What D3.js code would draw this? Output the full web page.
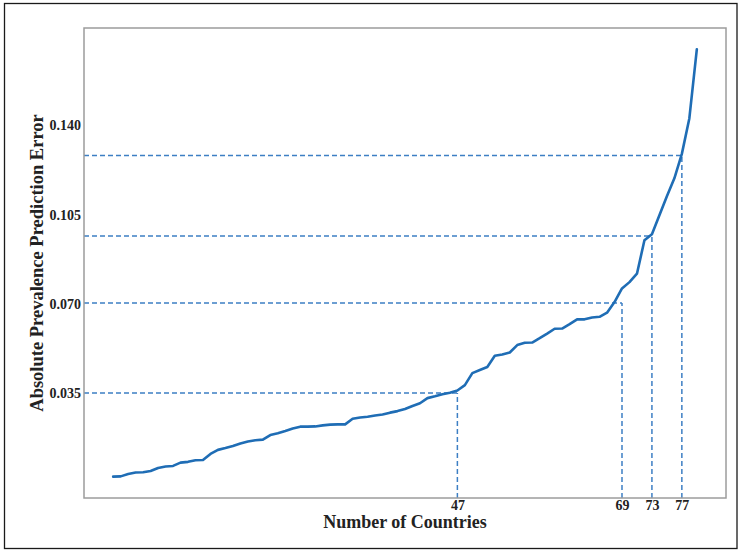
<!DOCTYPE html>
<meta charset="utf-8" />

<!-- Load d3.js -->
<script src="https://d3js.org/d3.v7.min.js"></script>

<style>
  body { margin: 0; background: #fff; }
</style>

<!-- Create a div where the graph will take place -->
<div id="my_dataviz"></div>

<script>
  // prediction error per country, sorted ascending (countries 1..79)
  var errorValues = [
    0.0022, 0.0023, 0.0032, 0.0038, 0.0039, 0.0044, 0.0056, 0.0062, 0.0064, 0.0077,
    0.0080, 0.0086, 0.0087, 0.0111, 0.0127, 0.0134, 0.0142, 0.0152, 0.016, 0.0165,
    0.0167, 0.0185, 0.0192, 0.0201, 0.0211, 0.0218, 0.0218, 0.0219, 0.0223, 0.0226,
    0.0227, 0.0227, 0.0249, 0.0254, 0.0257, 0.0262, 0.0266, 0.0273, 0.0279, 0.0287,
    0.0299, 0.0310, 0.0330, 0.0337, 0.0345, 0.0351, 0.0360, 0.0381, 0.0428, 0.0440,
    0.0452, 0.0496, 0.0501, 0.0509, 0.0538, 0.0547, 0.0548, 0.0565, 0.0583, 0.0602,
    0.0603, 0.0620, 0.0639, 0.0639, 0.0646, 0.0649, 0.0665, 0.0707, 0.0760, 0.0785,
    0.0818, 0.0949, 0.0973, 0.1047, 0.1122, 0.1192, 0.1288, 0.1427, 0.1698
  ];
  var countries = errorValues.map((d, i) => i + 1);

  // reference markers (country count and error level)
  var markCountries = [47, 69, 73, 77];
  var markLevels = [0.035, 0.0703, 0.0966, 0.1282];

  var yTicks = [0.035, 0.07, 0.105, 0.14];

  var total_width = 739,
    total_height = 551;
  // set the dimensions and margins of the graph
  const margin = { top: 28, right: 13, bottom: 53, left: 84 },
    width = total_width - margin.left - margin.right,
    height = total_height - margin.top - margin.bottom;

  var root = d3
    .select("#my_dataviz")
    .append("svg")
    .attr("width", total_width)
    .attr("height", total_height)
    .style("display", "block");

  // outer frame
  root
    .append("rect")
    .attr("x", 4.5)
    .attr("y", 3.5)
    .attr("width", 732.5)
    .attr("height", 545)
    .attr("fill", "white")
    .attr("stroke", "#1a1a1a")
    .attr("stroke-width", 1.3);

  var svg = root
    .append("g")
    .attr("transform", `translate(${margin.left},${margin.top})`);

  // matplotlib-like 5% padding
  var xPad = (d3.max(countries) - d3.min(countries)) * 0.05;
  var x = d3
    .scaleLinear()
    .domain([d3.min(countries) - xPad, d3.max(countries) + xPad])
    .range([0, width]);

  var yPad = (d3.max(errorValues) - d3.min(errorValues)) * 0.05;
  var y = d3
    .scaleLinear()
    .domain([d3.min(errorValues) - yPad, d3.max(errorValues) + yPad])
    .range([height, 0]);

  // axes (no tick marks, just labels)
  var xAxis = svg
    .append("g")
    .attr("transform", `translate(0, ${height})`)
    .call(d3.axisBottom(x).tickValues(markCountries).tickSize(0).tickPadding(2));
  var yAxis = svg
    .append("g")
    .call(
      d3.axisLeft(y).tickValues(yTicks).tickFormat(d3.format(".3f")).tickSize(0).tickPadding(3)
    );

  [xAxis, yAxis].forEach(function (g) {
    g.select(".domain").remove();
    g.selectAll("text")
      .style("font-family", "'Liberation Serif', 'Times New Roman', serif")
      .style("font-weight", "bold")
      .style("font-size", "14px")
      .attr("fill", "#222");
  });

  // dashed guide lines
  var dashColor = "#3d7fc4";
  svg
    .selectAll(".hGuide")
    .data(markCountries)
    .join("line")
    .attr("class", "hGuide")
    .attr("x1", 0)
    .attr("x2", (d) => x(d))
    .attr("y1", (d, i) => y(markLevels[i]))
    .attr("y2", (d, i) => y(markLevels[i]))
    .attr("stroke", dashColor)
    .attr("stroke-width", 1.5)
    .attr("stroke-dasharray", "5,3");

  svg
    .selectAll(".vGuide")
    .data(markCountries)
    .join("line")
    .attr("class", "vGuide")
    .attr("x1", (d) => x(d))
    .attr("x2", (d) => x(d))
    .attr("y1", height)
    .attr("y2", (d, i) => y(markLevels[i]))
    .attr("stroke", dashColor)
    .attr("stroke-width", 1.5)
    .attr("stroke-dasharray", "5,3");

  // Add the line
  svg
    .append("path")
    .datum(errorValues)
    .attr("fill", "none")
    .attr("stroke", "#1f6db5")
    .attr("stroke-width", 2.6)
    .attr("stroke-linejoin", "round")
    .attr("stroke-linecap", "round")
    .attr(
      "d",
      d3
        .line()
        .x((d, i) => x(countries[i]))
        .y((d) => y(d))
    );

  // plot frame
  svg
    .append("rect")
    .attr("x", 0)
    .attr("y", 0)
    .attr("width", width)
    .attr("height", height)
    .attr("fill", "none")
    .attr("stroke", "#9c9c9c")
    .attr("stroke-width", 1.5);

  // axis labels
  svg
    .append("text")
    .attr("x", width / 2)
    .attr("y", height + 30)
    .attr("text-anchor", "middle")
    .style("font-family", "'Liberation Serif', 'Times New Roman', serif")
    .style("font-weight", "bold")
    .style("font-size", "18px")
    .attr("fill", "#222")
    .text("Number of Countries");

  svg
    .append("text")
    .attr("transform", `translate(${43 - margin.left}, ${height / 2}) rotate(-90)`)
    .attr("text-anchor", "middle")
    .style("font-family", "'Liberation Serif', 'Times New Roman', serif")
    .style("font-weight", "bold")
    .style("font-size", "18.5px")
    .attr("fill", "#222")
    .text("Absolute Prevalence Prediction Error");
</script>
